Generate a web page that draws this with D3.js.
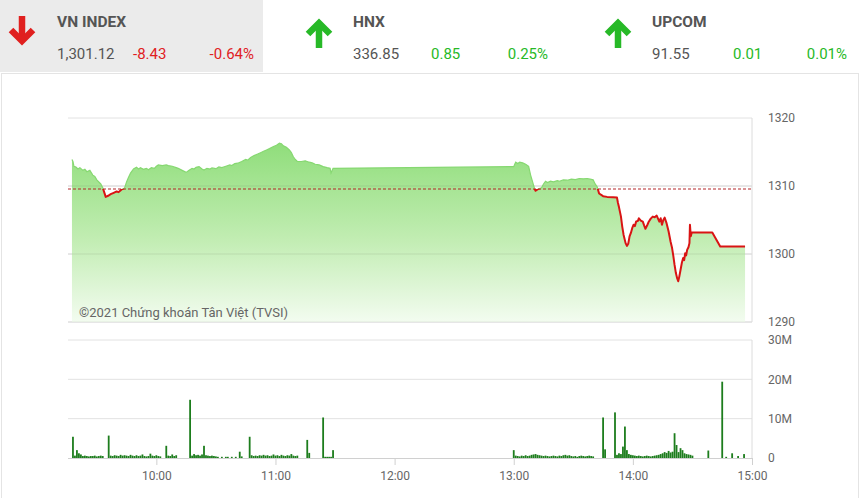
<!DOCTYPE html>
<html><head><meta charset="utf-8">
<script src="https://cdn.jsdelivr.net/npm/d3@7"></script>
<style>body{margin:0;background:#fff;font-family:Roboto,"Noto Sans",sans-serif}</style>
</head><body><svg id="c" width="860" height="498"></svg>
<script>
// ---------- DATA ----------
const indexNames = ["VN INDEX", "HNX", "UPCOM"];
const indexValues = ["1,301.12", "336.85", "91.55"];
const indexChanges = ["-8.43", "0.85", "0.01"];
const indexPercents = ["-0.64%", "0.25%", "0.01%"];
const indexDirections = ["down", "up", "up"];
const referencePrice = 1309.55;
const priceTicks = [1290, 1300, 1310, 1320];
const volumeTicks = [0, 10, 20, 30];
const timeTicks = ["10:00", "11:00", "12:00", "13:00", "14:00", "15:00"];
const copyrightText = "©2021 Chứng khoán Tân Việt (TVSI)";

const priceTimes = [
 "09:17:30","09:18:00","09:18:30","09:19:30","09:20:30","09:21:30","09:23:00","09:24:00","09:25:00","09:26:30",
 "09:28:00","09:29:00","09:30:00","09:32:00","09:33:00","09:34:30","09:36:00","09:37:00","09:38:30","09:40:00",
 "09:41:00","09:42:30","09:44:00","09:45:00","09:46:00","09:47:00","09:48:30","09:50:00","09:51:00","09:52:00",
 "09:53:30","09:55:00","09:56:00","09:57:30","09:59:00","10:00:00","10:01:00","10:03:00","10:05:00","10:06:00",
 "10:08:00","10:10:00","10:11:00","10:13:00","10:15:00","10:16:30","10:18:00","10:19:00","10:20:00","10:21:30",
 "10:23:00","10:24:00","10:25:30","10:27:00","10:28:00","10:30:00","10:31:30","10:33:00","10:35:00","10:37:00",
 "10:38:00","10:39:30","10:41:00","10:43:00","10:45:00","10:46:00","10:47:30","10:49:00","10:51:00","10:52:30",
 "10:54:00","10:55:30","10:57:00","10:59:00","11:00:30","11:02:00","11:03:00","11:04:00","11:05:30","11:07:00",
 "11:08:00","11:09:00","11:10:00","11:11:00","11:13:00","11:15:00","11:17:00","11:18:30","11:20:00","11:22:00",
 "11:24:00","11:26:00","11:27:30","11:28:00","11:29:00",
 "13:00:00","13:00:30","13:01:00","13:02:00","13:03:00","13:04:30","13:06:00","13:07:30","13:08:30","13:09:30",
 "13:10:30","13:11:00","13:12:30","13:14:00","13:15:00","13:16:00","13:17:00","13:18:30","13:20:00","13:22:00",
 "13:23:00","13:25:00","13:27:00","13:29:00","13:31:00","13:33:00","13:35:00","13:37:00","13:38:30","13:40:00",
 "13:41:00","13:42:00","13:43:00","13:45:00","13:47:00","13:50:00","13:52:00","13:52:30","13:53:00","13:54:00",
 "13:54:40","13:55:20","13:56:20","13:57:00","13:57:40","13:58:20","13:59:00","13:59:40","14:00:20","14:01:00",
 "14:01:40","14:02:30","14:03:00","14:04:00","14:05:00","14:05:40","14:06:20","14:07:20","14:08:00","14:09:00",
 "14:10:00","14:11:00","14:12:00","14:12:40","14:13:20","14:14:00","14:14:40","14:15:20","14:16:00","14:17:00",
 "14:18:00","14:19:00","14:19:40","14:20:20","14:21:00","14:21:40","14:22:20","14:22:50","14:23:20","14:24:00",
 "14:24:40","14:25:20","14:25:50","14:26:20","14:26:50","14:27:20","14:28:00","14:28:30","14:28:45","14:29:10",
 "14:29:40","14:40:00","14:44:00","14:56:30"
];
const priceValues = [
 1313.9,1313.6,1312.9,1312.8,1312.5,1312.7,1312.3,1312.45,1312.1,1312.3,
 1311.6,1311.4,1310.9,1310.3,1309.75,1308.4,1308.6,1308.8,1309.0,1309.2,
 1309.1,1309.5,1309.7,1310.6,1311.3,1311.9,1312.5,1312.75,1312.5,1312.7,
 1312.45,1312.6,1312.4,1312.7,1312.6,1312.9,1313.1,1313.0,1313.1,1313.0,
 1312.9,1312.7,1312.6,1312.3,1312.0,1312.3,1312.6,1312.5,1312.75,1312.85,
 1312.5,1312.35,1312.6,1312.5,1312.65,1312.55,1312.8,1312.7,1312.9,1313.1,
 1313.0,1313.3,1313.35,1313.6,1313.9,1313.8,1314.2,1314.45,1314.7,1314.9,
 1315.1,1315.3,1315.5,1315.8,1316.0,1316.3,1316.2,1315.9,1315.7,1315.3,
 1314.9,1314.3,1313.9,1313.6,1313.6,1313.7,1313.5,1313.4,1313.2,1313.1,
 1312.85,1312.7,1312.6,1311.9,1312.6,
 1312.85,1313.2,1313.5,1313.3,1313.5,1313.4,1313.2,1312.9,1311.6,1310.6,
 1309.6,1309.3,1309.6,1309.75,1310.3,1310.7,1310.5,1310.7,1310.6,1310.8,
 1310.7,1310.9,1310.85,1311.0,1310.95,1311.1,1311.05,1311.1,1311.0,1310.9,
 1310.3,1309.9,1308.9,1308.5,1308.4,1308.35,1308.3,1307.5,1306.9,1305.5,
 1304.0,1302.8,1301.6,1301.2,1301.5,1302.6,1303.1,1303.8,1304.3,1304.1,
 1304.8,1304.85,1305.25,1304.9,1304.75,1304.2,1303.7,1304.3,1304.75,1305.2,
 1305.5,1305.4,1305.65,1305.2,1304.75,1305.25,1304.3,1305.0,1305.35,1304.5,
 1303.3,1301.8,1301.0,1299.8,1298.4,1297.2,1296.4,1296.0,1296.6,1297.65,
 1298.7,1299.4,1299.1,1300.1,1299.8,1300.6,1301.0,1301.6,1304.3,1302.6,
 1303.15,1303.15,1301.12,1301.12
];

// per-minute volumes (millions of shares)
const volMorningStart = "09:18";
const volMorning = [
 5.4,0.6,2.0,1.2,0.9,0.5,0.6,0.5,0.4,0.5,
 0.5,0.6,0.4,0.5,0.6,0.5,0,0,5.7,0.6,
 0.5,0.7,0.6,0.5,0.8,0.6,0.7,0.6,0.5,0.8,
 0.6,0.5,0.7,0.5,0.6,0.9,0.5,0.4,0.5,1.1,
 0.6,0.5,0.7,0.5,0.4,0,0,3.1,0.6,0.5,
 0.9,0.5,0.7,0,0,0,0,0,0,14.8,
 0.6,1.0,0.7,0.8,0.6,0.9,3.1,0.7,0.6,0.5,
 0.6,0.5,0.4,0.3,0,0.3,0,0.3,0.3,0,
 0.3,0,0.3,0,1.6,0.4,0,0,0,5.4,
 0.7,0.5,0.6,0.5,0.7,0.6,0.8,0.6,0.7,0.5,
 0.6,0.9,0.6,0.7,0.5,0.8,0.6,0.5,0.7,0.6,
 1.0,0.6,0.5,0.6,0,0,0,0,4.6,1.3,
 0,0,0,0,0,0,10.3,0.3,0.3,0.3,
 0.3,2.0
];
const volAfternoonStart = "13:00";
const volAfternoon = [
 2.0,0.6,0.5,0.4,0.6,0.5,0.7,0.5,0.6,0.8,
 0.9,1.0,0.8,0.7,0.6,0.5,0.6,0.5,0.4,0.5,
 0.6,0.5,0.4,0.6,0.5,0.7,0.8,0.6,0.7,0.5,
 0.4,0.5,0.3,0.5,0.6,0.5,0.4,0.5,0.6,0.5,
 0.4,0,0,0,0,10.3,2.2,0,0,0,
 0,11.6,0.8,1.2,1.0,2.9,8.0,2.0,1.0,0.8,
 0.7,0.6,0.5,0.6,0.5,0.4,0.5,0.6,0.5,0.4,
 0.5,0.6,0.7,0.8,1.0,1.2,1.5,1.3,1.8,1.4,
 1.6,6.3,3.3,1.5,2.5,2.0,1.2,1.0,0.9,0.8,
 0.6,0,0,0,0,0,0,0,1.9,0,
 0,0,0,0,0,19.4,0,0.3,0,0,
 1.2,0,0,0.5,0,0,1.0
];

// ---------- LAYOUT ----------
const W = 860, H = 498;
const plotL = 67, plotR = 752;
const priceTop = 118, priceBot = 322;
const volTop = 340, volBot = 458;
const headerLayout = [
  {arrow: 22, text: 57, chg: 133, pct: 254, bg: true},
  {arrow: 319, text: 353, chg: 431, pct: 548, bg: false},
  {arrow: 618, text: 652, chg: 733, pct: 847, bg: false}
];
const RED = "#e0201f", GREEN = "#27b927", TXT = "#555";

const svg = d3.select("#c");
const parseT = s => d3.timeParse(s.length > 5 ? "%H:%M:%S" : "%H:%M")(s);

// ---------- HEADER ----------
svg.append("rect").attr("x", 0).attr("y", 0).attr("width", 263).attr("height", 72).attr("fill", "#ebebeb");
svg.append("rect").attr("x", 1.5).attr("y", 73.5).attr("width", W - 3).attr("height", H - 73)
   .attr("fill", "none").attr("stroke", "#e4e4e4");

indexNames.forEach((name, i) => {
  const L = headerLayout[i];
  const col = indexDirections[i] === "down" ? RED : GREEN;
  const g = svg.append("g");
  const cx = L.arrow;
  if (indexDirections[i] === "down") {
    g.append("line").attr("x1", cx).attr("x2", cx).attr("y1", 16).attr("y2", 40)
      .attr("stroke", col).attr("stroke-width", 6.5);
    g.append("polyline").attr("points", `${cx-11},30 ${cx},41 ${cx+11},30`)
      .attr("fill", "none").attr("stroke", col).attr("stroke-width", 6.5).attr("stroke-linejoin", "miter");
  } else {
    g.append("line").attr("x1", cx).attr("x2", cx).attr("y1", 48).attr("y2", 24)
      .attr("stroke", col).attr("stroke-width", 6.5);
    g.append("polyline").attr("points", `${cx-11},34 ${cx},23 ${cx+11},34`)
      .attr("fill", "none").attr("stroke", col).attr("stroke-width", 6.5).attr("stroke-linejoin", "miter");
  }
  g.append("text").attr("x", L.text).attr("y", 27).text(name)
    .attr("font-size", 15.5).attr("font-weight", "bold").attr("fill", TXT);
  g.append("text").attr("x", L.text).attr("y", 59).text(indexValues[i])
    .attr("font-size", 15).attr("fill", TXT);
  g.append("text").attr("x", L.chg).attr("y", 59).text(indexChanges[i])
    .attr("font-size", 15).attr("fill", col);
  g.append("text").attr("x", L.pct).attr("y", 59).text(indexPercents[i])
    .attr("font-size", 15).attr("fill", col).attr("text-anchor", "end");
});

// ---------- SCALES ----------
const x = d3.scaleTime().domain([parseT("09:15"), parseT("15:00")]).range([plotL, plotR]);
const yP = d3.scaleLinear().domain([1290, 1320]).range([priceBot, priceTop]);
const yV = d3.scaleLinear().domain([0, 30]).range([volBot, volTop]);

const priceData = priceTimes.map((t, i) => ({t: parseT(t), v: priceValues[i]}));
const volData = [];
volMorning.forEach((v, i) => volData.push({t: d3.timeMinute.offset(parseT(volMorningStart), i), v}));
volAfternoon.forEach((v, i) => volData.push({t: d3.timeMinute.offset(parseT(volAfternoonStart), i), v}));

// ---------- PRICE PANEL ----------
const defs = svg.append("defs");
const grad = defs.append("linearGradient").attr("id", "pg").attr("gradientUnits", "userSpaceOnUse")
  .attr("x1", 0).attr("x2", 0).attr("y1", 140).attr("y2", priceBot);
grad.append("stop").attr("offset", 0).attr("stop-color", "#8edd79");
grad.append("stop").attr("offset", 0.55).attr("stop-color", "#c2edb3");
grad.append("stop").attr("offset", 1).attr("stop-color", "#f3fcf0");
const refY = yP(referencePrice);
defs.append("clipPath").attr("id", "above").append("rect").attr("x", 0).attr("y", 0).attr("width", W).attr("height", refY);
defs.append("clipPath").attr("id", "below").append("rect").attr("x", 0).attr("y", refY).attr("width", W).attr("height", H);

// grid
svg.append("g").selectAll("line").data(priceTicks).join("line")
  .attr("x1", plotL + 1).attr("x2", plotR).attr("y1", d => yP(d)).attr("y2", d => yP(d))
  .attr("stroke", "#e2e2e2");

const area = d3.area().x(d => x(d.t)).y0(yP(1290)).y1(d => yP(d.v));
svg.append("path").datum(priceData).attr("d", area).attr("fill", "url(#pg)");

// grid over area (faint)
svg.append("g").selectAll("line").data(priceTicks.slice(0, 3)).join("line")
  .attr("x1", plotL + 1).attr("x2", plotR).attr("y1", d => yP(d)).attr("y2", d => yP(d))
  .attr("stroke", "rgba(0,0,0,0.08)");
svg.append("line").attr("x1", plotR).attr("x2", plotR).attr("y1", priceTop).attr("y2", priceBot)
  .attr("stroke", "#dcdcdc");

const line = d3.line().x(d => x(d.t)).y(d => yP(d.v));
svg.append("path").datum(priceData).attr("d", line).attr("fill", "none")
  .attr("stroke", "#86d871").attr("stroke-width", 1.2).attr("clip-path", "url(#above)");

svg.append("line").attr("x1", plotL + 1).attr("x2", plotR).attr("y1", refY).attr("y2", refY)
  .attr("stroke", "#b3262a").attr("stroke-width", 1.1).attr("stroke-dasharray", "3,2");

svg.append("path").datum(priceData).attr("d", line).attr("fill", "none")
  .attr("stroke", "#d91414").attr("stroke-width", 2).attr("stroke-linejoin", "round")
  .attr("clip-path", "url(#below)");

svg.append("text").attr("x", 79).attr("y", 317).text(copyrightText)
  .attr("font-size", 13).attr("fill", "#666");

// right price axis
const pAxis = svg.append("g").attr("transform", `translate(${plotR},0)`)
  .call(d3.axisRight(yP).tickValues(priceTicks).tickSize(0).tickPadding(16).tickFormat(d3.format("d")));
pAxis.select(".domain").remove();
pAxis.selectAll("text").attr("font-size", 12).attr("fill", "#666").attr("font-family", "Roboto");

// ---------- VOLUME PANEL ----------
svg.append("g").selectAll("line").data(volumeTicks.filter(d => d > 0)).join("line")
  .attr("x1", plotL + 1).attr("x2", plotR).attr("y1", d => yV(d)).attr("y2", d => yV(d))
  .attr("stroke", "#e2e2e2");
svg.append("line").attr("x1", plotR).attr("x2", plotR).attr("y1", volTop).attr("y2", volBot)
  .attr("stroke", "#dcdcdc");

svg.append("g").selectAll("rect").data(volData.filter(d => d.v > 0)).join("rect")
  .attr("x", d => x(d.t) - 0.9).attr("width", 1.8)
  .attr("y", d => yV(d.v)).attr("height", d => yV(0) - yV(d.v))
  .attr("fill", "#1d7d1d");

const vAxis = svg.append("g").attr("transform", `translate(${plotR},0)`)
  .call(d3.axisRight(yV).tickValues(volumeTicks).tickSize(0).tickPadding(16)
    .tickFormat(d => d === 0 ? "0" : d + "M"));
vAxis.select(".domain").remove();
vAxis.selectAll("text").attr("font-size", 12).attr("fill", "#666").attr("font-family", "Roboto");

const xAxis = svg.append("g").attr("transform", `translate(0,${volBot})`)
  .call(d3.axisBottom(x).tickValues(timeTicks.map(parseT)).tickSize(7).tickPadding(6)
    .tickFormat(d3.timeFormat("%H:%M")));
xAxis.select(".domain").attr("stroke", "#d0d0d0").attr("d", `M${plotL + 1},0.5H${plotR}`);
xAxis.selectAll(".tick line").attr("stroke", "#d0d0d0");
xAxis.selectAll("text").attr("font-size", 12).attr("fill", "#666").attr("font-family", "Roboto");
</script>
</body></html>
